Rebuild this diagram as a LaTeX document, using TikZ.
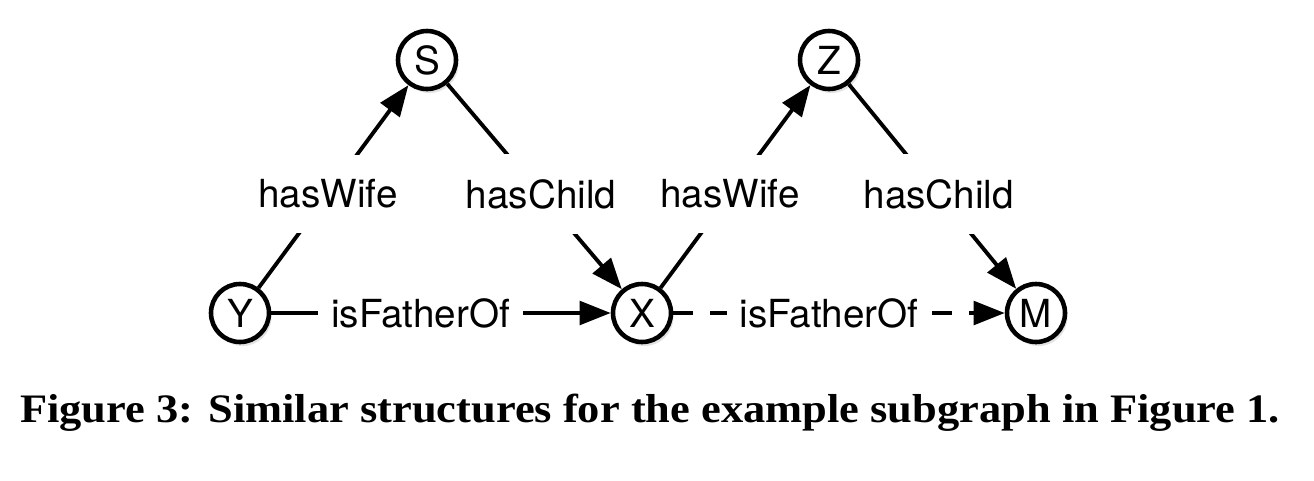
\documentclass[tikz,border=0pt]{standalone}
\usepackage{fontspec}
\usepackage{tikz}
\usetikzlibrary{arrows.meta,shadows}
\newfontfamily\helv{TeX Gyre Heros}
\newfontfamily\capfont[FakeStretch=1.1]{Liberation Serif}

\begin{document}
\begin{tikzpicture}[scale=1,
    >={Triangle[length=0.62cm,width=0.47cm]},
    entity/.style={circle, draw, line width=2.6pt, fill=white, minimum size=1.16cm, inner sep=0pt,
        font=\helv\fontsize{22}{26}\selectfont,
        drop shadow={opacity=0.22, shadow xshift=0.05cm, shadow yshift=-0.08cm}},
    rel/.style={line width=2.2pt},
    lbl/.style={fill=white, inner xsep=0.26cm, inner ysep=0.5cm, font=\helv\fontsize{22}{26}\selectfont}]
        \useasboundingbox (0,0) rectangle (26.28,9.6);
        % entities
        \node[entity] (S) at (8.54,8.4) {S};
        \node[entity] (Z) at (16.58,8.4) {Z};
        \node[entity] (Y) at (4.8,3.34) {Y};
        \node[entity] (X) at (12.84,3.34) {X};
        \node[entity] (M) at (20.72,3.34) {M};
        % relations
        \draw[rel,->] (Y) -- node[lbl,pos=0.463] {hasWife} (S);
        \draw[rel,->] (S) -- node[lbl,pos=0.537] {hasChild} (X);
        \draw[rel,->] (X) -- node[lbl,pos=0.463] {hasWife} (Z);
        \draw[rel,->] (Z) -- node[lbl,pos=0.537] {hasChild} (M);
        \draw[rel,->] (Y) -- node[lbl,pos=0.44] {isFatherOf} (X);
        \draw[rel,->,dash pattern=on 0.4cm off 0.34cm] (X) -- node[lbl,pos=0.47] {isFatherOf} (M);
        % caption
        \node[anchor=base, font=\capfont\bfseries\fontsize{23}{28}\selectfont] (cap) at (13.0,1.16)
            {Figure 3: Similar structures for the example subgraph in Figure 1.};
    \end{tikzpicture}
\end{document}
